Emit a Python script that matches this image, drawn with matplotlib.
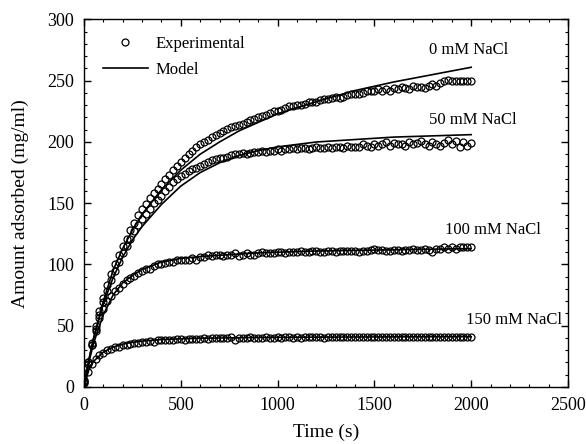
import numpy as np
import matplotlib
matplotlib.use('Agg')
import matplotlib.pyplot as plt
from matplotlib.ticker import MultipleLocator

plt.rcParams['font.family'] = ['Liberation Serif', 'DejaVu Serif']

# experimental sampling times (s)
t_exp = np.arange(0, 2001, 20)

exp_0mM = [4, 20, 36, 50, 62, 73, 83, 92, 100, 108, 115, 121, 128, 134, 140, 145, 149, 154, 158, 162,
           166, 170, 173, 177, 180, 184, 187, 190, 193, 196, 198, 200, 202, 204, 206, 207, 209, 211, 212, 213,
           214, 215, 216, 218, 219, 220, 221, 222, 224, 225, 225, 226, 228, 229, 229, 230, 230, 231, 233, 233,
           233, 234, 235, 235, 236, 237, 236, 237, 238, 239, 239, 239, 240, 242, 242, 242, 243, 242, 243, 242,
           244, 243, 245, 244, 243, 246, 245, 245, 244, 246, 247, 246, 248, 250, 251, 250, 250, 250, 250, 250,
           250]
exp_50mM = [6, 19, 34, 47, 59, 69, 78, 87, 95, 102, 109, 115, 121, 127, 132, 137, 141, 145, 150, 153,
            156, 160, 163, 167, 170, 172, 174, 176, 178, 179, 180, 182, 184, 185, 186, 187, 187, 188, 189, 190,
            190, 191, 190, 191, 192, 192, 193, 192, 193, 193, 194, 193, 194, 194, 195, 194, 195, 195, 194, 195,
            196, 195, 195, 196, 195, 196, 196, 195, 197, 196, 196, 196, 198, 197, 196, 198, 197, 198, 200, 197,
            199, 198, 198, 197, 200, 198, 199, 201, 198, 197, 200, 198, 197, 199, 202, 198, 201, 196, 200, 197,
            199]
exp_100mM = [5, 20, 34, 46, 56, 64, 70, 74, 78, 81, 84, 87, 89, 91, 93, 95, 96, 96, 99, 100,
             100, 101, 102, 102, 104, 104, 104, 104, 105, 104, 106, 106, 108, 107, 108, 108, 107, 108, 108, 109,
             107, 108, 109, 108, 108, 109, 110, 109, 109, 109, 110, 110, 109, 110, 110, 110, 111, 110, 110, 111,
             111, 110, 110, 111, 111, 110, 111, 111, 111, 111, 111, 110, 111, 111, 112, 113, 112, 112, 111, 111,
             112, 112, 111, 112, 112, 113, 112, 112, 113, 112, 110, 113, 113, 114, 113, 114, 113, 114, 114, 114,
             114]
exp_150mM = [3, 12, 19, 23, 26, 28, 30, 31, 32.5, 33, 34, 34.5, 35, 36, 36, 37, 37, 37.5, 37, 38,
             38, 38.5, 38, 38.5, 39, 39, 38.5, 39, 39, 39.5, 39, 40, 39.5, 40, 40, 40, 40, 40, 40.5, 38.5,
             40, 40, 40, 40.5, 40, 40, 40, 40.5, 40, 40, 40.5, 40, 40.5, 40.5, 40, 40.5, 40, 40.5, 40.5, 40.5,
             40.5, 40.5, 40, 41, 41, 41, 41, 41, 40.5, 41, 41, 40.5, 41, 41, 40.5, 41, 41, 41, 40.5, 41,
             41, 41, 41, 41, 41, 41, 40.5, 41, 41, 41, 41, 41, 41, 41, 41, 41, 41, 41, 41, 41,
             41]

# model curves
t_model = [0, 25, 50, 100, 150, 200, 250, 300, 400, 500, 600, 700, 800, 900, 1000, 1200, 1400, 1600, 1800, 2000]
model_0mM = [0, 22, 40, 70, 95, 113, 128, 141, 161, 177, 190, 200, 209, 216, 223, 233, 242, 249, 255, 261]
model_50mM = [0, 22, 40, 68, 89, 106, 120, 131, 149, 164, 175, 183, 189, 193, 196, 200, 202, 204, 205, 206]
model_100mM = [0, 20, 36, 59, 75, 85, 91, 96, 102, 105, 106.5, 107.5, 108.5, 109.5, 110, 111, 111.5, 112, 112.5, 113]
model_150mM = [0, 14, 21, 28.5, 32.5, 35, 36.5, 37.5, 38.7, 39.3, 39.8, 40, 40.2, 40.4, 40.5, 40.7, 40.8, 40.9, 41, 41]

series_labels = ['0 mM NaCl', '50 mM NaCl', '100 mM NaCl', '150 mM NaCl']
label_pos = [(1784, 275), (1784, 218), (1867, 128), (1973, 55)]

fig = plt.figure(figsize=(5.86, 4.44), dpi=100)
ax = fig.add_axes([0.1433, 0.1284, 0.826, 0.8277])

exps = [exp_0mM, exp_50mM, exp_100mM, exp_150mM]
models = [model_0mM, model_50mM, model_100mM, model_150mM]
for i, (ye, ym) in enumerate(zip(exps, models)):
    ax.plot(t_exp, ye, 'o', mfc='none', mec='black', ms=5, mew=0.9,
            label='Experimental' if i == 0 else None)
    ax.plot(t_model, ym, '-', color='black', lw=1.2,
            label='Model' if i == 0 else None)
    ax.text(label_pos[i][0], label_pos[i][1], series_labels[i], fontsize=12,
            ha='left', va='center')

ax.set_xlim(0, 2500)
ax.set_ylim(0, 300)
ax.xaxis.set_major_locator(MultipleLocator(500))
ax.xaxis.set_minor_locator(MultipleLocator(100))
ax.yaxis.set_major_locator(MultipleLocator(50))
ax.yaxis.set_minor_locator(MultipleLocator(10))
ax.tick_params(which='both', direction='in', top=True, right=True, labelsize=13)
ax.tick_params(which='major', length=5, width=1, pad=7)
ax.tick_params(which='minor', length=2.5, width=0.8)
for s in ax.spines.values():
    s.set_linewidth(1.0)

ax.set_xlabel('Time (s)', fontsize=14, labelpad=7)
ax.set_ylabel('Amount adsorbed (mg/ml)', fontsize=14, labelpad=13)

ax.legend(loc='upper left', bbox_to_anchor=(0.039, 0.955), frameon=False, numpoints=1,
          borderaxespad=0, borderpad=0,
          handlelength=2.7, handletextpad=0.45, labelspacing=0.6, fontsize=12)

fig.savefig('out.png', dpi=100)
